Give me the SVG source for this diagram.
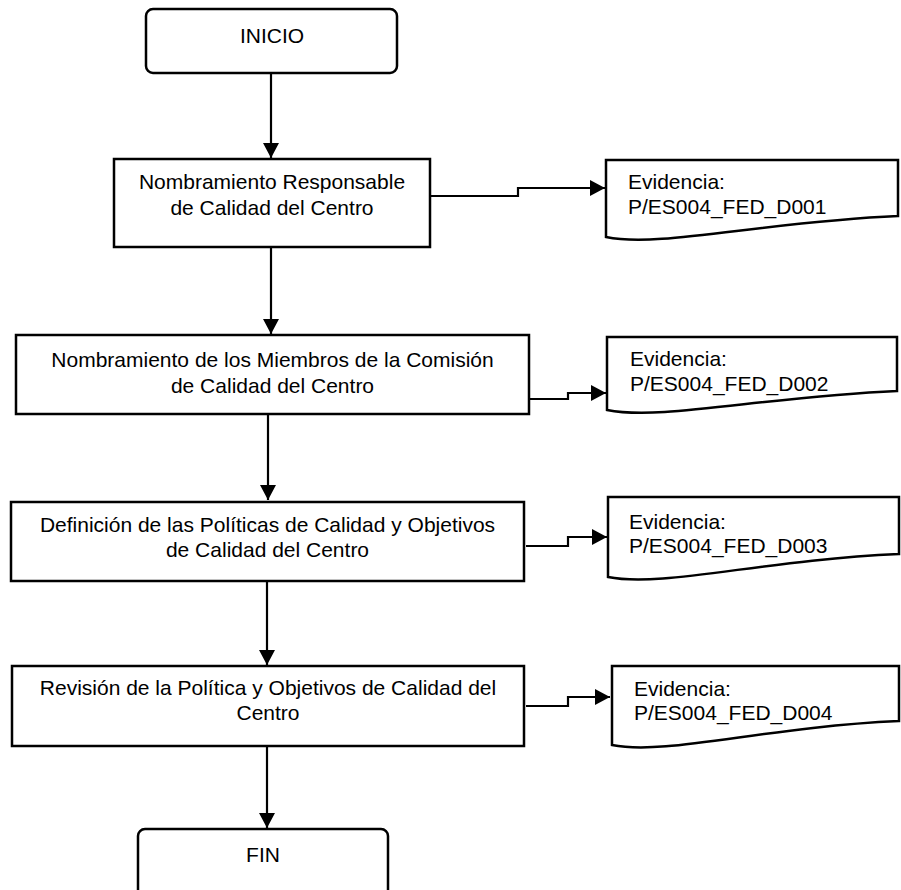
<svg xmlns="http://www.w3.org/2000/svg" width="901" height="890" viewBox="0 0 901 890">
<style>
  .shape { fill: #ffffff; stroke: #000000; stroke-width: 2.5; }
  .line { fill: none; stroke: #000000; stroke-width: 2.2; }
  text { font-family: "Liberation Sans", Arial, sans-serif; font-size: 21px; fill: #000000; }
  .c { text-anchor: middle; }
</style>
<defs>
  <marker id="arr" markerUnits="userSpaceOnUse" markerWidth="16" markerHeight="17" refX="15" refY="8" orient="auto">
    <path d="M0,0 L15,8 L0,16 Z" fill="#000000"/>
  </marker>
</defs>
<rect width="901" height="890" fill="#ffffff"/>
<g id="connectors">
  <path class="line" d="M271,73 V158" marker-end="url(#arr)"/>
  <path class="line" d="M271,247 V334" marker-end="url(#arr)"/>
  <path class="line" d="M268,414 V500" marker-end="url(#arr)"/>
  <path class="line" d="M267,581 V665" marker-end="url(#arr)"/>
  <path class="line" d="M267,746 V828" marker-end="url(#arr)"/>
  <path class="line" d="M430,196 H518 V188 H605" marker-end="url(#arr)"/>
  <path class="line" d="M529,399 H568 V393 H606" marker-end="url(#arr)"/>
  <path class="line" d="M526,546 H568 V537 H607" marker-end="url(#arr)"/>
  <path class="line" d="M526,706 H568 V697 H610" marker-end="url(#arr)"/>
</g>
<g id="inicio">
  <rect class="shape" x="146" y="9" width="251" height="64" rx="7"/>
  <text class="c" x="272" y="43">INICIO</text>
</g>
<g id="p1">
  <rect class="shape" x="114" y="159" width="316" height="88"/>
  <text class="c" x="272" y="189">Nombramiento Responsable</text>
  <text class="c" x="272" y="215">de Calidad del Centro</text>
</g>
<g id="d1">
  <path class="shape" d="M606,160 H898 V216 C760,222 660,248 606,237 Z"/>
  <text x="628" y="189">Evidencia:</text>
  <text x="628" y="214">P/ES004_FED_D001</text>
</g>
<g id="p2">
  <rect class="shape" x="16" y="335" width="513" height="79"/>
  <text class="c" x="272.5" y="367">Nombramiento de los Miembros de la Comisión</text>
  <text class="c" x="272.5" y="393">de Calidad del Centro</text>
</g>
<g id="d2">
  <path class="shape" d="M607,337 H897 V391 C761,397 661,421 607,410 Z"/>
  <text x="630" y="366">Evidencia:</text>
  <text x="630" y="391">P/ES004_FED_D002</text>
</g>
<g id="p3">
  <rect class="shape" x="11" y="502" width="513" height="79"/>
  <text class="c" x="267.5" y="532">Definición de las Políticas de Calidad y Objetivos</text>
  <text class="c" x="267.5" y="557">de Calidad del Centro</text>
</g>
<g id="d3">
  <path class="shape" d="M608,497 H899 V554 C762,560 662,588 608,577 Z"/>
  <text x="629" y="529">Evidencia:</text>
  <text x="629" y="553">P/ES004_FED_D003</text>
</g>
<g id="p4">
  <rect class="shape" x="12" y="666" width="512" height="80"/>
  <text class="c" x="268" y="695">Revisión de la Política y Objetivos de Calidad del</text>
  <text class="c" x="268" y="720">Centro</text>
</g>
<g id="d4">
  <path class="shape" d="M612,666 H899 V721 C764,727 666,756 612,745 Z"/>
  <text x="634" y="696">Evidencia:</text>
  <text x="634" y="720">P/ES004_FED_D004</text>
</g>
<g id="fin">
  <rect class="shape" x="138" y="829" width="250" height="70" rx="7"/>
  <text class="c" x="263" y="862">FIN</text>
</g>
</svg>
